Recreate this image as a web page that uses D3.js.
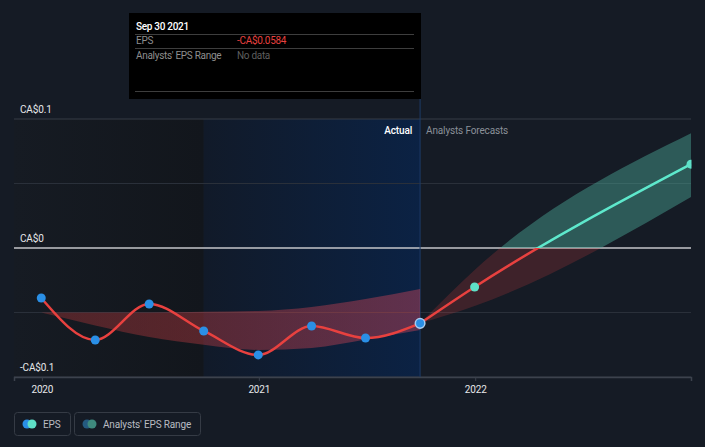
<!DOCTYPE html>
<html><head><meta charset="utf-8">
<script src="https://cdn.jsdelivr.net/npm/d3@7"></script>
<style>
body{margin:0;background:#151b25;}
svg{display:block;font-family:Roboto,"Noto Sans",sans-serif;}
</style>
</head><body>
<svg id="c" width="705" height="447"></svg>
<script>
// ---- data ----
const epsDates = ["2019-12-31","2020-03-31","2020-06-30","2020-09-30","2020-12-31","2021-03-31","2021-06-30","2021-09-30"];
const epsValues = [-0.0388,-0.0713,-0.0434,-0.0643,-0.0829,-0.0605,-0.0698,-0.0584];
const forecastDates = ["2021-09-30","2021-12-31","2022-12-31"];
const forecastValues = [-0.0584,-0.0302,0.065];
const rangeDates = ["2021-09-30","2021-12-31","2022-12-31"];
const rangeLow = [-0.0584,-0.045,0.0395];
const rangeHigh = [-0.0584,-0.017,0.089];
const pastRangeDates = ["2019-12-31","2020-03-31","2020-06-30","2020-09-30","2020-12-31","2021-03-31","2021-06-30","2021-09-30"];
const pastRangeLow = [-0.05,-0.060,-0.069,-0.075,-0.079,-0.0775,-0.071,-0.0636];
const pastRangeHigh = [-0.05,-0.05,-0.05,-0.0495,-0.0488,-0.0457,-0.0395,-0.0318];
const yGrid = [-0.1,-0.05,0,0.05,0.1];
const yLabelValues = [0.1,0,-0.1];
const yLabelTexts = ["CA$0.1","CA$0","-CA$0.1"];
const xTickDates = ["2020-01-01","2021-01-01","2022-01-01"];
const xTickLabels = ["2020","2021","2022"];
const lastYearStart = "2020-09-30";
const todayDate = "2021-09-30";

const parse = d3.utcParse("%Y-%m-%d");
const svg = d3.select("#c");
const W = 705, H = 447;
const L = 14, R = 691, T = 119, B = 377;
const FS = 10, LS = -0.15;

const x = d3.scaleUtc().domain([parse("2019-11-15"), parse("2022-12-31")]).range([L, R]);
const y = d3.scaleLinear().domain([-0.1, 0.1]).range([B, T]);

const defs = svg.append("defs");
svg.append("rect").attr("width", W).attr("height", H).attr("fill", "#151b25");
const g1 = defs.append("linearGradient").attr("id","pastBg").attr("x1",0).attr("x2",1).attr("y1",0).attr("y2",0);
g1.append("stop").attr("offset",0).attr("stop-color","#161b23");
g1.append("stop").attr("offset",1).attr("stop-color","#12161c");
const g2 = defs.append("linearGradient").attr("id","yearBg").attr("x1",0).attr("x2",1).attr("y1",0).attr("y2",0);
g2.append("stop").attr("offset",0).attr("stop-color","#111a29");
g2.append("stop").attr("offset",1).attr("stop-color","#0b2244");
const xLY = x(parse(lastYearStart)), xNow = x(parse(todayDate));
svg.append("rect").attr("x", L).attr("y", T).attr("width", xLY - L).attr("height", B - T).attr("fill", "url(#pastBg)");
svg.append("rect").attr("x", xLY).attr("y", T).attr("width", xNow - xLY).attr("height", B - T).attr("fill", "url(#yearBg)");

// grid
svg.append("g").selectAll("line").data(yGrid).join("line")
  .attr("x1", L).attr("x2", R).attr("y1", d => y(d)).attr("y2", d => y(d))
  .attr("stroke", d => d === 0 ? "#c4c6ca" : (Math.abs(d) === 0.1 ? "#363c47" : "#2a303a"))
  .attr("stroke-width", d => d === 0 ? 1.5 : 1);

// x axis
const xAxis = d3.axisBottom(x).tickValues(xTickDates.map(parse)).tickFormat((d, i) => xTickLabels[i]).tickSize(4).tickPadding(5);
const ax = svg.append("g").attr("transform", `translate(0,${B})`).call(xAxis);
ax.select(".domain").attr("stroke", "#3c424d").attr("stroke-width", 1.5);
ax.selectAll(".tick line").attr("stroke", "#3c424d");
ax.selectAll(".tick text").attr("fill", "#e6e7e9").attr("font-size", FS).attr("letter-spacing", LS).attr("font-family", "Roboto, sans-serif");

// y labels
svg.append("g").selectAll("text").data(yLabelValues).join("text")
  .attr("x", 20).attr("y", d => y(d) - 6)
  .attr("fill", "#e6e7e9").attr("font-size", FS).attr("letter-spacing", LS)
  .text((d, i) => yLabelTexts[i]);

// now line
svg.append("line").attr("x1", xNow).attr("x2", xNow).attr("y1", 98).attr("y2", B)
  .attr("stroke", "#1d3b66").attr("stroke-width", 1);

svg.append("text").attr("x", xNow - 8).attr("y", 134).attr("text-anchor", "end")
  .attr("fill", "#ffffff").attr("font-size", FS).attr("letter-spacing", LS).attr("font-weight", 500).text("Actual");
svg.append("text").attr("x", xNow + 6).attr("y", 134)
  .attr("fill", "#8a9099").attr("font-size", FS).attr("letter-spacing", LS).text("Analysts Forecasts");

// clip paths
defs.append("clipPath").attr("id","plot").append("rect").attr("x", L).attr("y", 0).attr("width", R - L + 0.5).attr("height", B);
defs.append("clipPath").attr("id","below").append("rect").attr("x", L).attr("y", y(0)).attr("width", R - L + 0.5).attr("height", B - y(0));
defs.append("clipPath").attr("id","above").append("rect").attr("x", L).attr("y", 0).attr("width", R - L + 0.5).attr("height", y(0));

// past range band
const pastBand = pastRangeDates.map((d, i) => ({d: parse(d), lo: pastRangeLow[i], hi: pastRangeHigh[i]}));
const g3 = defs.append("linearGradient").attr("id","pastBand").attr("x1",0).attr("x2",1).attr("y1",0).attr("y2",0);
g3.append("stop").attr("offset",0).attr("stop-color","#e8413f").attr("stop-opacity",0.28);
g3.append("stop").attr("offset",1).attr("stop-color","#ea4a5e").attr("stop-opacity",0.38);
const area = d3.area().x(d => x(d.d)).y0(d => y(d.lo)).y1(d => y(d.hi)).curve(d3.curveMonotoneX);
svg.append("path").datum(pastBand).attr("d", area).attr("fill", "url(#pastBand)");

// forecast range band
const fBand = rangeDates.map((d, i) => ({d: parse(d), lo: rangeLow[i], hi: rangeHigh[i]}));
svg.append("path").datum(fBand).attr("d", area).attr("fill", "#e8413f").attr("fill-opacity", 0.2).attr("clip-path", "url(#below)");
svg.append("path").datum(fBand).attr("d", area).attr("fill", "#4fb3a0").attr("fill-opacity", 0.42).attr("clip-path", "url(#above)");

// lines
const line = d3.line().x(d => x(d.d)).y(d => y(d.v)).curve(d3.curveMonotoneX);
const eps = epsDates.map((d, i) => ({d: parse(d), v: epsValues[i]}));
const fc = forecastDates.map((d, i) => ({d: parse(d), v: forecastValues[i]}));
svg.append("path").datum(eps).attr("d", line).attr("fill", "none").attr("stroke", "#e8413f").attr("stroke-width", 2.5);
svg.append("path").datum(fc).attr("d", line).attr("fill", "none").attr("stroke", "#e8413f").attr("stroke-width", 2.5).attr("clip-path", "url(#below)");
svg.append("path").datum(fc).attr("d", line).attr("fill", "none").attr("stroke", "#5ee8cc").attr("stroke-width", 2.5).attr("clip-path", "url(#above)");

// points
svg.append("g").selectAll("circle").data(eps.slice(0, -1)).join("circle")
  .attr("cx", d => x(d.d)).attr("cy", d => y(d.v)).attr("r", 4.5).attr("fill", "#2a8fe6");
const last = eps[eps.length - 1];
svg.append("circle").attr("cx", x(last.d)).attr("cy", y(last.v)).attr("r", 4.8)
  .attr("fill", "#2a8fe6").attr("stroke", "#a9cdf0").attr("stroke-width", 1.5);
svg.append("g").attr("clip-path", "url(#plot)").selectAll("circle").data(fc.slice(1)).join("circle")
  .attr("cx", d => x(d.d)).attr("cy", d => y(d.v)).attr("r", 4.5).attr("fill", "#5ee0c8");

// tooltip
const tt = svg.append("g").attr("letter-spacing", -0.3);
tt.append("rect").attr("x", 129).attr("y", 13).attr("width", 292).attr("height", 86).attr("fill", "#000");
tt.append("text").attr("x", 136).attr("y", 30).attr("fill", "#ffffff").attr("font-size", FS).attr("font-weight", 500).text("Sep 30 2021");
[34, 48, 91].forEach(v => tt.append("line").attr("x1", 135).attr("x2", 414).attr("y1", v + 0.5).attr("y2", v + 0.5).attr("stroke", "#3e3e3e"));
tt.append("text").attr("x", 136).attr("y", 44).attr("fill", "#8e8e8e").attr("font-size", FS).text("EPS");
tt.append("text").attr("x", 237).attr("y", 44).attr("fill", "#e8413f").attr("font-size", FS).text("-CA$0.0584");
tt.append("text").attr("x", 136).attr("y", 59).attr("fill", "#8e8e8e").attr("font-size", FS).text("Analysts' EPS Range");
tt.append("text").attr("x", 237).attr("y", 59).attr("fill", "#5e5e5e").attr("font-size", FS).text("No data");

// legend
const lg = svg.append("g").attr("letter-spacing", LS);
lg.append("rect").attr("x", 14.5).attr("y", 412.5).attr("width", 56).attr("height", 23).attr("rx", 3).attr("fill", "none").attr("stroke", "#353b45");
lg.append("circle").attr("cx", 27).attr("cy", 424).attr("r", 4.5).attr("fill", "#2a8fe6");
lg.append("circle").attr("cx", 32).attr("cy", 424).attr("r", 4.5).attr("fill", "#5ee0c8");
lg.append("text").attr("x", 43).attr("y", 428).attr("fill", "#b9bcc2").attr("font-size", FS).text("EPS");
lg.append("rect").attr("x", 74.5).attr("y", 412.5).attr("width", 126).attr("height", 23).attr("rx", 3).attr("fill", "none").attr("stroke", "#353b45");
lg.append("circle").attr("cx", 87).attr("cy", 424).attr("r", 4.5).attr("fill", "#245a80");
lg.append("circle").attr("cx", 92).attr("cy", 424).attr("r", 4.5).attr("fill", "#3e8a7e");
lg.append("text").attr("x", 103).attr("y", 428).attr("fill", "#b9bcc2").attr("font-size", FS).text("Analysts' EPS Range");
</script>
</body></html>
